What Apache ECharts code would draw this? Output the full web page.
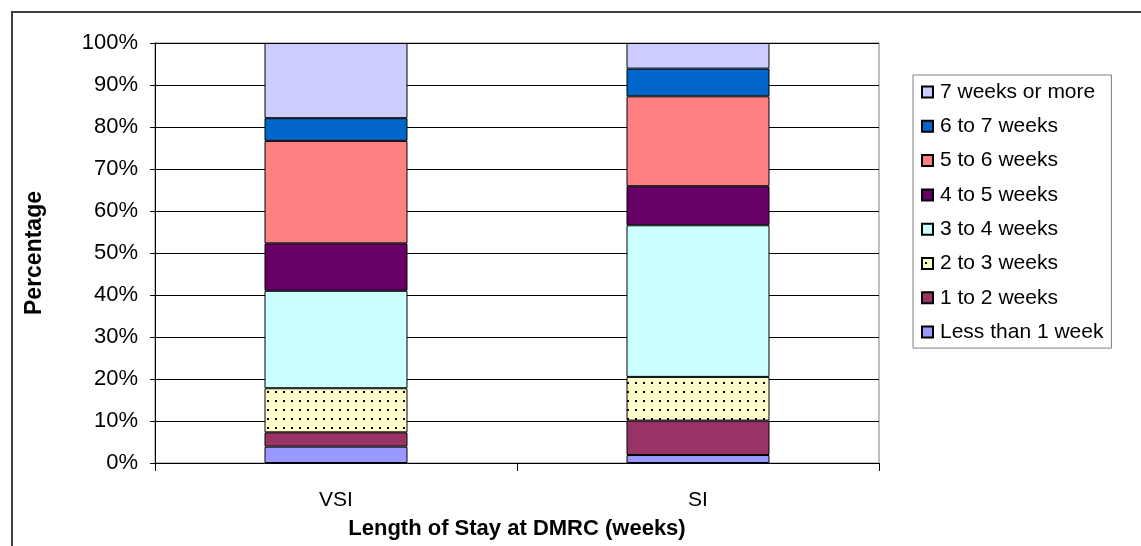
<!DOCTYPE html>
<html>
<head>
<meta charset="utf-8">
<script src="https://cdn.jsdelivr.net/npm/echarts@6/dist/echarts.min.js"></script>
<style>
html,body{margin:0;padding:0;background:#fff;}
#chart{width:1141px;height:546px;}
</style>
</head>
<body>
<div id="chart"></div>
<script>
const categories = ['VSI', 'SI'];
const seriesNames = ['Less than 1 week', '1 to 2 weeks', '2 to 3 weeks', '3 to 4 weeks', '4 to 5 weeks', '5 to 6 weeks', '6 to 7 weeks', '7 weeks or more'];
const lessThan1 = [3.9, 1.9];
const w1to2 = [3.4, 8.2];
const w2to3 = [10.5, 10.4];
const w3to4 = [23.2, 36.1];
const w4to5 = [11.3, 9.3];
const w5to6 = [24.4, 21.4];
const w6to7 = [5.4, 6.6];
const w7plus = [17.9, 6.1];
const yTicks = [0, 10, 20, 30, 40, 50, 60, 70, 80, 90, 100];

const values = [lessThan1, w1to2, w2to3, w3to4, w4to5, w5to6, w6to7, w7plus];

// dotted pattern for "2 to 3 weeks"
const pat = document.createElement('canvas');
pat.width = 8; pat.height = 9;
const pctx = pat.getContext('2d');
pctx.fillStyle = '#FFFFCC';
pctx.fillRect(0, 0, 8, 9);
pctx.fillStyle = '#000';
pctx.fillRect(3, 4, 2, 2);

const colors = ['#9999FF', '#993366', {image: pat, repeat: 'repeat'}, '#CCFFFF', '#660066', '#FF8080', '#0066CC', '#CCCCFF'];
const FONT = "'Liberation Sans', Arial, sans-serif";

const chart = echarts.init(document.getElementById('chart'), null, {renderer: 'canvas'});
chart.setOption({
  animation: false,
  backgroundColor: '#fff',
  textStyle: {fontFamily: FONT},
  grid: {left: 155, right: 262, top: 43, bottom: 83, show: true, borderColor: '#808080', borderWidth: 1, backgroundColor: 'transparent'},
  legend: {
    orient: 'vertical',
    left: 913, top: 75,
    data: seriesNames.slice().reverse(),
    icon: 'rect',
    itemWidth: 11, itemHeight: 11,
    itemGap: 12.3,
    padding: [6, 8, 5, 8],
    borderColor: '#808080', borderWidth: 1, borderRadius: 0,
    backgroundColor: '#fff',
    textStyle: {fontFamily: FONT, fontSize: 21, color: '#000', lineHeight: 22, padding: [0, 0, 0, 2]}
  },
  xAxis: {
    type: 'category',
    data: categories,
    name: 'Length of Stay at DMRC (weeks)',
    nameLocation: 'middle',
    nameGap: 55,
    nameTextStyle: {fontFamily: FONT, fontSize: 22, fontWeight: 'bold', color: '#000'},
    axisLine: {lineStyle: {color: '#000', width: 1}},
    axisTick: {show: true, length: 8, lineStyle: {color: '#000'}},
    axisLabel: {fontFamily: FONT, fontSize: 21, color: '#000', margin: 27}
  },
  yAxis: {
    type: 'value',
    min: yTicks[0], max: yTicks[yTicks.length - 1], interval: yTicks[1] - yTicks[0],
    name: 'Percentage',
    nameLocation: 'middle',
    nameRotate: 90,
    nameGap: 109,
    nameTextStyle: {fontFamily: FONT, fontSize: 23, fontWeight: 'bold', color: '#000'},
    axisLine: {show: true, lineStyle: {color: '#000', width: 1}},
    axisTick: {show: true, length: 5, lineStyle: {color: '#000'}},
    axisLabel: {fontFamily: FONT, fontSize: 22, color: '#000', margin: 17, formatter: '{value}%'},
    splitLine: {show: true, lineStyle: {color: '#000', width: 1}}
  },
  graphic: [{
    type: 'rect',
    shape: {x: 12, y: 12, width: 1200, height: 600},
    style: {fill: 'none', stroke: '#404040', lineWidth: 2},
    silent: true, z: -1
  }],
  series: seriesNames.map((name, i) => ({
    name: name,
    type: 'bar',
    stack: 'total',
    barWidth: '39.5%',
    data: values[i],
    itemStyle: {color: colors[i], borderColor: '#000', borderWidth: 1}
  }))
});
</script>
</body>
</html>
